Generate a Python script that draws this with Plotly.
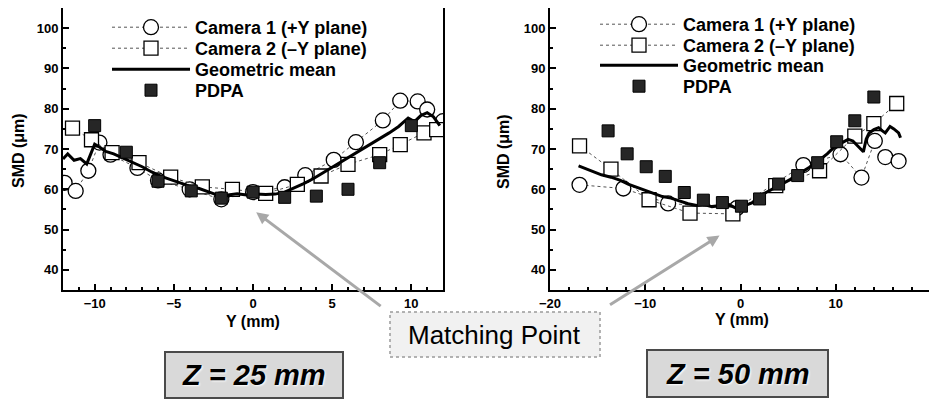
import plotly.graph_objects as go

# the page body has an 8px margin, so the figure is drawn 8px in from the corner
OFF = 8
W, H = 937 - OFF, 401 - OFF

# ---- Z = 25 mm (left panel) ----
cam1_x_25 = [-11.9, -11.2, -10.4, -9.7, -9.0, -7.3, -6.0, -4.0, -2.0, 0.0, 2.0, 3.3, 5.1, 6.5, 8.2, 9.3, 10.4, 11.0, 12.0]
cam1_y_25 = [61.6, 59.6, 64.6, 71.6, 68.6, 65.3, 62.2, 60.0, 57.5, 59.3, 60.5, 63.5, 67.3, 71.7, 77.1, 82.0, 81.8, 79.8, 76.9]

cam2_x_25 = [-11.4, -10.2, -8.9, -7.2, -5.2, -3.2, -1.3, 0.8, 2.8, 4.3, 6.0, 8.0, 9.3, 10.8, 11.6]
cam2_y_25 = [75.2, 72.3, 69.1, 66.6, 63.0, 60.6, 60.0, 59.0, 61.2, 63.3, 66.2, 68.6, 71.1, 74.0, 74.8]

mean_x_25 = [-12, -11.7, -11.3, -10.9, -10.5, -10.2, -10.0, -9.7, -9.3, -8.8, -8.2, -7.6, -7.0, -6.4, -5.8,
             -5.2, -4.6, -4.0, -3.4, -2.8, -2.2, -1.6, -1.0, -0.4, 0.2, 0.8, 1.4, 2.0, 2.6, 3.2, 3.8, 4.4,
             5.0, 5.6, 6.2, 6.8, 7.4, 8.0, 8.6, 9.2, 9.8, 10.2, 10.6, 11.0, 11.4, 11.8]
mean_y_25 = [67.5, 68.8, 67.2, 67.6, 66.3, 69.5, 71.2, 70.5, 69.4, 68.8, 67.8, 66.6, 65.6, 64.3, 63.2,
             62.4, 61.5, 60.8, 60.2, 59.4, 58.5, 58.6, 58.9, 58.6, 58.8, 58.7, 58.8, 59.3, 60.3, 61.4, 62.6, 64.0,
             65.5, 66.9, 68.3, 69.8, 71.0, 72.4, 74.0, 75.6, 77.7, 76.8, 78.3, 79.0, 78.0, 75.8]

pdpa_x_25 = [-10.0, -8.0, -6.0, -3.9, -2.0, 0.0, 2.0, 4.0, 6.0, 8.0, 10.0]
pdpa_y_25 = [75.8, 69.2, 62.0, 59.6, 57.8, 59.3, 58.0, 58.3, 60.0, 66.6, 75.8]

# ---- Z = 50 mm (right panel) ----
cam1_x_50 = [-16.9, -12.3, -7.6, -0.4, 6.6, 10.5, 12.7, 14.1, 15.2, 16.6]
cam1_y_50 = [61.1, 60.2, 56.5, 55.3, 66.0, 68.7, 62.9, 72.0, 68.0, 67.0]

cam2_x_50 = [-16.9, -13.6, -9.6, -5.3, -0.8, 3.7, 8.3, 12.0, 14.0, 16.4]
cam2_y_50 = [70.8, 65.0, 57.4, 54.1, 53.9, 60.9, 64.6, 73.2, 76.3, 81.3]

mean_x_50 = [-17.0, -16.2, -15.4, -14.6, -13.6, -12.6, -11.8, -10.7, -9.8, -9.0, -8.2, -7.3, -6.4, -5.5,
             -4.6, -3.8, -3.0, -2.0, -1.2, -0.4, 0.4, 1.2, 2.2, 3.2, 4.3, 5.2, 6.1, 7.2, 8.2, 9.1, 9.9,
             10.6, 11.3, 11.8, 12.2, 12.6, 12.9, 13.2, 13.5, 14.0, 14.5, 14.9, 15.2, 15.7, 16.1, 16.6, 16.8]
mean_y_50 = [65.8, 65.0, 64.2, 63.6, 63.0, 62.2, 61.3, 60.3, 59.6, 58.9, 58.2, 57.8, 57.0, 56.4,
             56.0, 56.2, 55.7, 55.9, 56.2, 55.2, 56.0, 56.6, 58.6, 59.8, 61.3, 62.4, 63.8, 65.4, 67.1, 68.8, 70.6,
             71.5, 72.4, 72.0, 71.0, 70.2, 69.3, 72.5, 74.0, 74.8, 75.3, 74.5, 74.0, 75.6, 75.0, 74.0, 72.8]

pdpa_x_50 = [-13.9, -11.9, -9.9, -7.9, -5.9, -3.9, -1.9, 0.1, 2.0, 4.0, 6.0, 8.1, 10.1, 12.0, 14.0]
pdpa_y_50 = [74.5, 68.8, 65.6, 63.2, 59.2, 57.3, 56.7, 55.8, 57.6, 61.3, 63.4, 66.6, 71.8, 77.0, 82.9]

series_names = ["Camera 1 (+Y plane)", "Camera 2 (\u2013Y plane)", "Geometric mean", "PDPA"]
panel_labels = ["Z = 25 mm", "Z = 50 mm"]

FONT = "Liberation Sans, Arial, sans-serif"


def px_x(p):
    return (p - OFF) / W


def px_y(p):
    return 1 - (p - OFF) / H


fig = go.Figure()

# (data..., axes, legend symbol start px, legend row centres px)
panels = [
    (cam1_x_25, cam1_y_25, cam2_x_25, cam2_y_25, mean_x_25, mean_y_25, pdpa_x_25, pdpa_y_25, "x", "y",
     107, [25, 46, 67, 88]),
    (cam1_x_50, cam1_y_50, cam2_x_50, cam2_y_50, mean_x_50, mean_y_50, pdpa_x_50, pdpa_y_50, "x2", "y2",
     595, [22, 43, 63, 84]),
]

legend_font = dict(family=FONT, size=18, color="black", weight="bold")
legends = {}
n = 0
for c1x, c1y, c2x, c2y, mx, my, px_, py_, xa, ya, sym_x, rows in panels:
    names = []
    for _ in range(4):
        n += 1
        name = "legend" if n == 1 else "legend%d" % n
        names.append(name)
    for name, row in zip(names, rows):
        legends[name] = dict(x=px_x(sym_x), y=px_y(row - 16), xanchor="left", yanchor="top",
                             bgcolor="rgba(0,0,0,0)", itemwidth=78, font=legend_font)

    fig.add_trace(go.Scatter(
        x=c1x, y=c1y, mode="lines+markers", name=series_names[0], xaxis=xa, yaxis=ya, legend=names[0],
        line=dict(color="#555", width=1, dash="dot"),
        marker=dict(symbol="circle", size=15, color="white", line=dict(color="black", width=1.3))))
    fig.add_trace(go.Scatter(
        x=c2x, y=c2y, mode="lines+markers", name=series_names[1], xaxis=xa, yaxis=ya, legend=names[1],
        line=dict(color="#555", width=1, dash="dot"),
        marker=dict(symbol="square", size=14, color="white", line=dict(color="black", width=1.3))))
    fig.add_trace(go.Scatter(
        x=mx, y=my, mode="lines", name=series_names[2], xaxis=xa, yaxis=ya, legend=names[2],
        line=dict(color="black", width=3)))
    fig.add_trace(go.Scatter(
        x=px_, y=py_, mode="markers", name=series_names[3], xaxis=xa, yaxis=ya, legend=names[3],
        marker=dict(symbol="square", size=12, color="#262626", line=dict(color="black", width=1))))

tickfont = dict(family=FONT, size=13, color="black", weight="bold")
common_axis = dict(showgrid=False, zeroline=False, showline=True, linecolor="black", linewidth=2,
                   mirror=True, ticks="inside", ticklen=6, tickwidth=1.5, tickcolor="black",
                   tickfont=tickfont, automargin=False)

ydom = [px_y(290), px_y(8)]
fig.update_layout(
    template="none",
    width=W, height=H,
    margin=dict(l=0, r=0, t=0, b=0, pad=0, autoexpand=False),
    paper_bgcolor="white", plot_bgcolor="white",
    xaxis=dict(domain=[px_x(63), px_x(443)], range=[-12, 12], dtick=5, tick0=0, anchor="y",
               minor=dict(dtick=1, ticks="inside", ticklen=3, tickcolor="black"), **common_axis),
    yaxis=dict(domain=ydom, range=[35, 105], dtick=10, tick0=0, anchor="x",
               minor=dict(dtick=5, ticks="inside", ticklen=3, tickcolor="black"), **common_axis),
    xaxis2=dict(domain=[px_x(550), px_x(931)], range=[-20, 20], dtick=10, tick0=0, anchor="y2",
                minor=dict(dtick=2, ticks="inside", ticklen=3, tickcolor="black"), **common_axis),
    yaxis2=dict(domain=ydom, range=[35, 105], dtick=10, tick0=0, anchor="x2",
                minor=dict(dtick=5, ticks="inside", ticklen=3, tickcolor="black"), **common_axis),
    showlegend=True,
    **legends,
)

title_font = dict(family=FONT, size=16, color="black", weight="bold")
annotations = []
for xc, yc in [(18, 151), (503, 151)]:
    annotations.append(dict(text="SMD (\u03bcm)", x=px_x(xc), y=px_y(yc), xref="paper", yref="paper",
                            xanchor="center", yanchor="middle",
                            textangle=-90, showarrow=False, font=title_font))
for xc, yc in [(253, 321), (742, 319)]:
    annotations.append(dict(text="Y (mm)", x=px_x(xc), y=px_y(yc), xref="paper", yref="paper",
                            xanchor="center", yanchor="middle", showarrow=False, font=title_font))

# matching point arrows
annotations.append(dict(x=0.2, y=54.3, xref="x", yref="y", ax=126, ay=95, text="", showarrow=True,
                        arrowhead=2, arrowsize=0.8, arrowwidth=3, arrowcolor="#a8a8a8"))
annotations.append(dict(x=-2.2, y=48.5, xref="x2", yref="y2", ax=-111, ay=70, text="", showarrow=True,
                        arrowhead=2, arrowsize=0.8, arrowwidth=3, arrowcolor="#a8a8a8"))

annotations.append(dict(text="Matching Point", x=px_x(494), y=px_y(335), xref="paper", yref="paper",
                        xanchor="center", yanchor="middle",
                        showarrow=False, font=dict(family=FONT, size=26, color="black")))

shapes = [dict(type="rect", xref="paper", yref="paper", x0=px_x(390), x1=px_x(600), y0=px_y(357), y1=px_y(312),
               fillcolor="#f1f1f1", line=dict(color="#9a9a9a", width=1.5, dash="dot"), layer="below")]
for (x0, x1, y0, y1), lab in zip([(165, 343, 352, 398), (647, 828, 350, 397)], panel_labels):
    shapes.append(dict(type="rect", xref="paper", yref="paper", x0=px_x(x0), x1=px_x(x1), y0=px_y(y1),
                       y1=px_y(y0), fillcolor="#d9d9d9", line=dict(color="#4a4a4a", width=2), layer="below"))
    annotations.append(dict(text="<i>" + lab + "</i>", x=px_x((x0 + x1) / 2), y=px_y((y0 + y1) / 2),
                            xref="paper", yref="paper", xanchor="center", yanchor="middle",
                            showarrow=False,
                            font=dict(family=FONT, size=29, color="black", weight="bold",
                                      shadow="1px 1px 2px white")))

fig.update_layout(annotations=annotations, shapes=shapes)

fig.write_html("out.html")
